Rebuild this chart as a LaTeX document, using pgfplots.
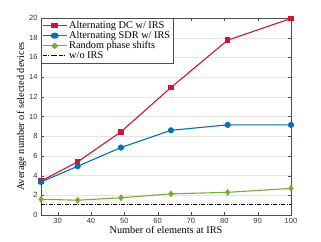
\documentclass[border=0pt]{standalone}
\usepackage{fontspec}
\setmainfont{Liberation Serif}
\setsansfont{Liberation Sans}
\usepackage{pgfplots}
\pgfplotsset{compat=1.18}
\definecolor{cred}{RGB}{210,20,50}
\definecolor{cblue}{RGB}{0,114,189}
\definecolor{cgreen}{RGB}{119,172,48}
\begin{document}
\begin{tikzpicture}
\path (-41pt,-26pt) rectangle (280pt,215pt);
\begin{axis}[
  at={(0,0)}, anchor=south west,
  scale only axis,
  width=250pt, height=197pt,
  xmin=25, xmax=100, ymin=0, ymax=20,
  xtick={30,40,...,100}, ytick={0,2,...,20},
  tick align=inside,
  major tick length=3pt,
  ymajorgrids,
  grid style={gray!20},
  axis line style={black!70},
  tick style={black!70},
  /pgf/number format/assume math mode=true,
  ticklabel style={font=\sffamily\fontsize{7.5}{8}\selectfont, text=black!80},
  xlabel={Number of elements at IRS},
  ylabel={Average number of selected devices},
  label style={font=\fontsize{10.3}{12}\selectfont},
  xlabel style={yshift=4pt},
  ylabel style={yshift=-4pt},
  legend style={at={(0,1)}, anchor=north west, font=\fontsize{10.3}{10.5}\selectfont, draw=black!70, inner sep=1pt, row sep=-2.5pt, cells={anchor=west}},
  legend image post style={xscale=1.4},
  legend cell align=left,
]
\addplot[cred, line width=1.1pt, mark=square*, mark size=2.2pt] coordinates {(25,3.45) (36,5.4) (49,8.45) (64,12.95) (81,17.75) (100,19.95)};
\addlegendentry{Alternating DC w/ IRS}
\addplot[cblue, line width=1.1pt, mark=*, mark size=2.5pt] coordinates {(25,3.35) (36,4.95) (49,6.85) (64,8.6) (81,9.15) (100,9.15)};
\addlegendentry{Alternating SDR w/ IRS}
\addplot[cgreen, line width=1.1pt, mark=diamond*, mark size=2.6pt] coordinates {(25,1.6) (36,1.5) (49,1.75) (64,2.15) (81,2.3) (100,2.7)};
\addlegendentry{Random phase shifts}
\addplot[black, line width=1.1pt, dash pattern=on 4pt off 1.5pt on 1pt off 1.5pt] coordinates {(25,1.1) (100,1.1)};
\addlegendentry{w/o IRS}
\end{axis}
\end{tikzpicture}
\end{document}
